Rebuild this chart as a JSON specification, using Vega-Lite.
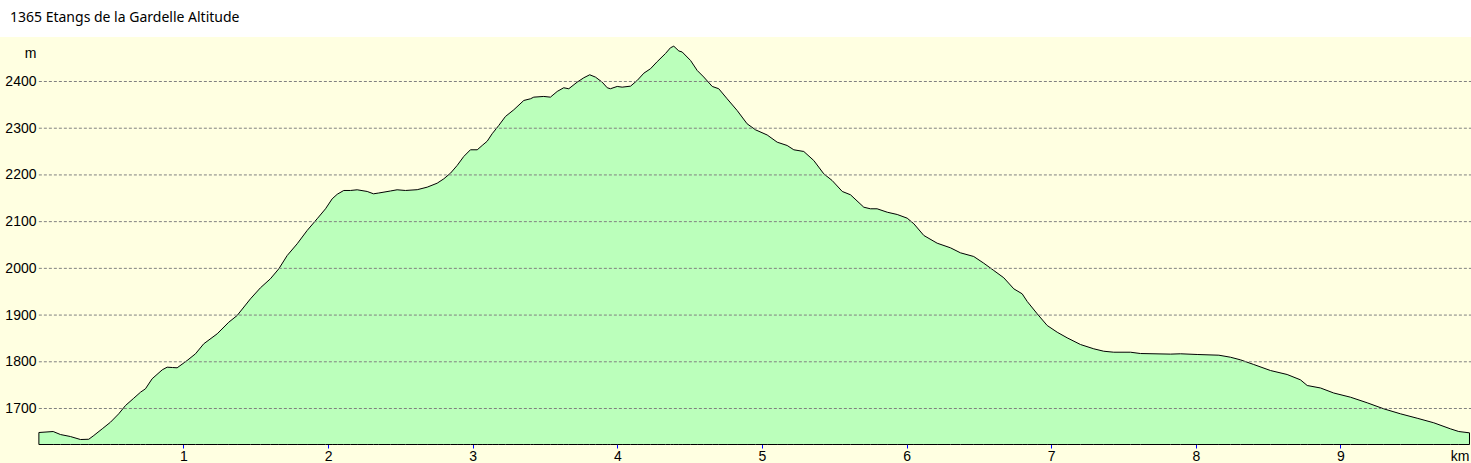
{
  "$schema": "https://vega.github.io/schema/vega-lite/v6.json",
  "autosize": "none",
  "padding": {"top": 37, "left": 0, "right": 0, "bottom": 0},
  "width": 1471,
  "height": 426,
  "background": "#FFFFFF",
  "title": {
    "text": "1365 Etangs de la Gardelle Altitude",
    "anchor": "start",
    "frame": "group",
    "orient": "top",
    "baseline": "alphabetic",
    "offset": 1,
    "dx": 10,
    "font": "Noto Sans",
    "fontSize": 14,
    "fontWeight": "normal",
    "color": "#000000"
  },
  "config": {
    "view": {"stroke": null, "fill": "#FFFFE1"},
    "axis": {"labelFont": "Liberation Sans", "titleFont": "Liberation Sans", "labelColor": "#000000", "titleColor": "#000000"}
  },
  "datasets": {
    "profile": [
      {"km": 0.0, "m": 1648.6}, {"km": 0.099, "m": 1650.7}, {"km": 0.149, "m": 1644.3}, {"km": 0.218, "m": 1640.0},
      {"km": 0.288, "m": 1633.6}, {"km": 0.345, "m": 1634.2}, {"km": 0.38, "m": 1642.2}, {"km": 0.438, "m": 1656.5},
      {"km": 0.495, "m": 1670.6}, {"km": 0.552, "m": 1688.6}, {"km": 0.599, "m": 1706.4}, {"km": 0.656, "m": 1722.0},
      {"km": 0.703, "m": 1734.9}, {"km": 0.737, "m": 1742.2}, {"km": 0.783, "m": 1763.6}, {"km": 0.853, "m": 1782.8},
      {"km": 0.887, "m": 1788.4}, {"km": 0.924, "m": 1787.7}, {"km": 0.956, "m": 1787.1}, {"km": 1.025, "m": 1802.7},
      {"km": 1.083, "m": 1817.1}, {"km": 1.14, "m": 1838.5}, {"km": 1.233, "m": 1859.9}, {"km": 1.313, "m": 1884.7},
      {"km": 1.371, "m": 1899.1}, {"km": 1.463, "m": 1934.8}, {"km": 1.532, "m": 1958.4}, {"km": 1.601, "m": 1977.7},
      {"km": 1.659, "m": 1999.0}, {"km": 1.717, "m": 2027.5}, {"km": 1.786, "m": 2052.6}, {"km": 1.855, "m": 2081.1},
      {"km": 1.924, "m": 2106.1}, {"km": 1.982, "m": 2127.5}, {"km": 2.028, "m": 2148.9}, {"km": 2.063, "m": 2158.6},
      {"km": 2.108, "m": 2166.7}, {"km": 2.155, "m": 2166.7}, {"km": 2.201, "m": 2168.2}, {"km": 2.27, "m": 2164.6},
      {"km": 2.314, "m": 2159.6}, {"km": 2.35, "m": 2161.3}, {"km": 2.431, "m": 2165.6}, {"km": 2.477, "m": 2168.2},
      {"km": 2.535, "m": 2166.7}, {"km": 2.616, "m": 2168.4}, {"km": 2.685, "m": 2173.8}, {"km": 2.754, "m": 2182.3},
      {"km": 2.8, "m": 2191.7}, {"km": 2.846, "m": 2203.7}, {"km": 2.892, "m": 2220.2}, {"km": 2.938, "m": 2239.5},
      {"km": 2.984, "m": 2253.8}, {"km": 3.031, "m": 2253.8}, {"km": 3.065, "m": 2263.0}, {"km": 3.1, "m": 2272.2},
      {"km": 3.134, "m": 2288.1}, {"km": 3.18, "m": 2305.9}, {"km": 3.226, "m": 2325.1}, {"km": 3.284, "m": 2339.5},
      {"km": 3.353, "m": 2359.4}, {"km": 3.399, "m": 2363.0}, {"km": 3.422, "m": 2366.5}, {"km": 3.491, "m": 2368.0},
      {"km": 3.537, "m": 2366.5}, {"km": 3.584, "m": 2378.7}, {"km": 3.629, "m": 2386.6}, {"km": 3.664, "m": 2384.5},
      {"km": 3.722, "m": 2398.6}, {"km": 3.768, "m": 2408.0}, {"km": 3.809, "m": 2414.4}, {"km": 3.849, "m": 2409.3},
      {"km": 3.895, "m": 2398.6}, {"km": 3.93, "m": 2386.6}, {"km": 3.952, "m": 2384.5}, {"km": 3.999, "m": 2389.4},
      {"km": 4.033, "m": 2387.9}, {"km": 4.091, "m": 2390.0}, {"km": 4.137, "m": 2402.2}, {"km": 4.183, "m": 2417.8},
      {"km": 4.229, "m": 2427.3}, {"km": 4.275, "m": 2442.4}, {"km": 4.333, "m": 2460.0}, {"km": 4.367, "m": 2472.2},
      {"km": 4.39, "m": 2475.6}, {"km": 4.425, "m": 2465.4}, {"km": 4.448, "m": 2463.2}, {"km": 4.506, "m": 2445.0},
      {"km": 4.552, "m": 2423.6}, {"km": 4.597, "m": 2409.7}, {"km": 4.656, "m": 2389.4}, {"km": 4.701, "m": 2384.5},
      {"km": 4.759, "m": 2363.0}, {"km": 4.828, "m": 2338.0}, {"km": 4.897, "m": 2309.5}, {"km": 4.955, "m": 2296.6},
      {"km": 5.036, "m": 2285.5}, {"km": 5.105, "m": 2270.1}, {"km": 5.174, "m": 2263.0}, {"km": 5.22, "m": 2253.8},
      {"km": 5.289, "m": 2250.2}, {"km": 5.358, "m": 2230.9}, {"km": 5.427, "m": 2202.4}, {"km": 5.485, "m": 2188.1},
      {"km": 5.555, "m": 2164.6}, {"km": 5.612, "m": 2157.5}, {"km": 5.704, "m": 2130.9}, {"km": 5.75, "m": 2127.5},
      {"km": 5.796, "m": 2127.5}, {"km": 5.866, "m": 2120.2}, {"km": 5.935, "m": 2115.3}, {"km": 6.004, "m": 2107.4},
      {"km": 6.05, "m": 2095.4}, {"km": 6.119, "m": 2070.4}, {"km": 6.211, "m": 2053.9}, {"km": 6.303, "m": 2044.0},
      {"km": 6.372, "m": 2033.3}, {"km": 6.464, "m": 2025.4}, {"km": 6.533, "m": 2011.1}, {"km": 6.603, "m": 1995.4},
      {"km": 6.672, "m": 1979.8}, {"km": 6.741, "m": 1956.2}, {"km": 6.799, "m": 1945.5}, {"km": 6.834, "m": 1929.1},
      {"km": 6.903, "m": 1902.7}, {"km": 6.972, "m": 1877.7}, {"km": 7.041, "m": 1863.3}, {"km": 7.11, "m": 1851.3},
      {"km": 7.202, "m": 1837.0}, {"km": 7.294, "m": 1827.8}, {"km": 7.363, "m": 1822.6}, {"km": 7.432, "m": 1820.5},
      {"km": 7.548, "m": 1820.5}, {"km": 7.617, "m": 1817.7}, {"km": 7.825, "m": 1816.4}, {"km": 7.894, "m": 1817.1},
      {"km": 8.009, "m": 1815.6}, {"km": 8.159, "m": 1814.1}, {"km": 8.239, "m": 1809.8}, {"km": 8.308, "m": 1804.2},
      {"km": 8.4, "m": 1794.2}, {"km": 8.516, "m": 1781.3}, {"km": 8.631, "m": 1772.8}, {"km": 8.723, "m": 1761.4},
      {"km": 8.77, "m": 1749.2}, {"km": 8.862, "m": 1743.9}, {"km": 8.953, "m": 1733.2}, {"km": 9.069, "m": 1724.2},
      {"km": 9.185, "m": 1712.2}, {"km": 9.299, "m": 1699.3}, {"km": 9.415, "m": 1688.6}, {"km": 9.53, "m": 1679.2},
      {"km": 9.645, "m": 1669.4}, {"km": 9.76, "m": 1656.5}, {"km": 9.818, "m": 1650.7}, {"km": 9.892, "m": 1647.9}
    ],
    "grid": [
      {"m": 1700}, {"m": 1800}, {"m": 1900}, {"m": 2000}, {"m": 2100}, {"m": 2200}, {"m": 2300}, {"m": 2400}
    ]
  },
  "layer": [
    {
      "data": {"name": "profile"},
      "mark": {"type": "area", "fill": "#BBFFBB", "stroke": "#000000", "strokeWidth": 1, "interpolate": "linear"},
      "encoding": {
        "x": {
          "field": "km", "type": "quantitative",
          "scale": {"domain": [-0.2688, 9.9024], "nice": false, "zero": false},
          "axis": {
            "values": [1, 2, 3, 4, 5, 6, 7, 8, 9], "format": "d",
            "offset": -19, "domain": false, "grid": false,
            "tickColor": "#0000FF", "tickSize": 4, "tickWidth": 1,
            "labelFontSize": 14, "labelBaseline": "alphabetic", "labelPadding": 12, "labelFlush": false,
            "title": "km", "titleFontSize": 14, "titleFontWeight": "normal",
            "titleAlign": "right", "titleBaseline": "alphabetic",
            "titleX": 1469, "titleY": 16
          }
        },
        "y": {
          "field": "m", "type": "quantitative",
          "scale": {"domain": [1583.33, 2495.26], "nice": false, "zero": false},
          "axis": {
            "values": [1700, 1800, 1900, 2000, 2100, 2200, 2300, 2400], "format": "d",
            "offset": -38, "ticks": false, "domain": false, "grid": false,
            "labelPadding": 2, "labelFontSize": 14,
            "title": "m", "titleAngle": 0, "titleFontSize": 14, "titleFontWeight": "normal",
            "titleAlign": "right", "titleBaseline": "alphabetic", "titleX": -2, "titleY": 20
          }
        },
        "y2": {"datum": 1622.9}
      }
    },
    {
      "data": {"name": "grid"},
      "mark": {"type": "rule", "stroke": "#808080", "strokeWidth": 1, "strokeDash": [3, 2]},
      "encoding": {
        "y": {"field": "m", "type": "quantitative"},
        "x": {"datum": 0, "type": "quantitative"},
        "x2": {"datum": 9.9024}
      }
    }
  ]
}
